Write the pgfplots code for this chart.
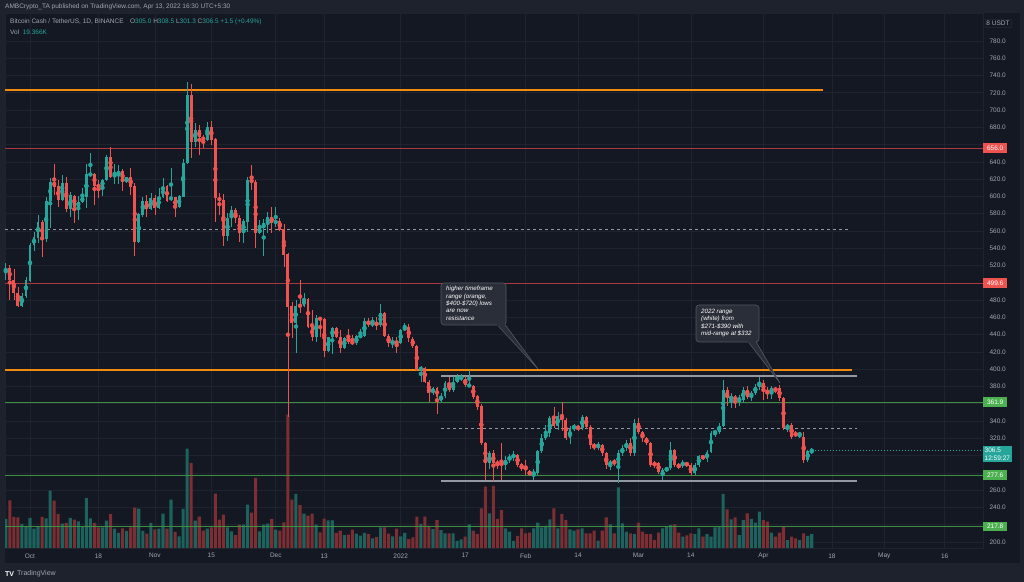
\documentclass[border=0pt]{standalone}
\usepackage{pgfplots}
\pgfplotsset{compat=1.18}
\usepackage{pgfplotstable}
\usepackage{fontspec}
\setmainfont{Liberation Sans}
\definecolor{bgout}{HTML}{1E222D}
\definecolor{bgin}{HTML}{141823}
\definecolor{gridc}{HTML}{1F2330}
\definecolor{txt}{HTML}{A3A6AF}
\definecolor{up}{HTML}{26A69A}
\definecolor{dn}{HTML}{EF5350}
\definecolor{volup}{HTML}{1D625D}
\definecolor{voldn}{HTML}{7D2E33}
\definecolor{orng}{HTML}{F08A10}
\definecolor{redl}{HTML}{A8393E}
\definecolor{redbox}{HTML}{EF5350}
\definecolor{grnl}{HTML}{3F8F43}
\definecolor{grnbox}{HTML}{4CAF50}
\definecolor{rng}{HTML}{9598A1}
\definecolor{callbg}{HTML}{2A2E39}
\definecolor{callbd}{HTML}{545761}
\newcommand\tvf{\fontsize{6.5bp}{7.8bp}\selectfont}
\newcommand\tvs{\fontsize{6.2bp}{7.4bp}\selectfont}

\pgfplotstableread{
d o h l c v
-6 513.0 523.4 503.3 516.8 40.0
-2 473.2 487.9 472.4 484.8 33.1
-1 484.8 507 482 503.3 29.9
0 502 545.7 501 543.8 41.4
1 543.8 559.3 537.3 552.7 26.7
2 551.5 578.5 545.7 570.8 29.9
4 550.4 599.8 547.7 595.1 40.9
5 595.1 621 563.1 617.2 79.1
8 596 625 595 616 33.6
10 585 605.6 576.6 601.7 41.4
12 588 600 572.8 594 36.8
13 594 609.4 592.8 599 29.9
14 599 637.6 586.3 625.6 69.0
15 624.9 650 623 626 40.9
18 611 620 600 619 28.5
19 619 648 618.3 645.3 37.7
21 623.7 637.6 615 624.9 26.7
22 623.7 636.4 614.5 629.9 20.7
24 617 623 616 622 23.5
27 547.7 580.5 545.7 579.3 54.3
28 578.5 599.8 576.6 595.1 23.5
30 585 603.6 584.3 597.8 34.5
32 586.3 609.4 586 599.8 26.7
33 599 621 597.8 611.4 47.4
35 596.7 632.6 595 599 66.7
37 587.4 601.7 586.3 600.6 16.1
38 599.8 643.4 599 639.1 53.8
39 639.1 732.9 637.6 717.5 137.1
41 663.4 684.7 657.7 677 37.7
44 665.4 686.6 664.6 680 26.7
49 554.3 580.5 548.9 575.5 28.5
50 574.7 589 565 584.3 23.0
53 557.3 573.5 546.5 571.6 32.2
54 570.8 622.2 559.3 619 59.8
57 557.3 572.8 556.6 563.1 23.0
58 563.1 573.5 531.5 568.9 32.2
59 568.9 581.6 557.3 575.9 33.6
61 569.7 587.4 565 571.2 25.3
66 453.1 480 419 473.2 74.5
68 473.2 487.9 472.4 481 47.4
71 437.7 462.8 431.9 459 32.2
74 421.5 437.7 420.3 436.9 38.2
75 436.9 449.3 417.6 447.4 38.2
78 424.2 437.7 423 435.8 17.9
81 430 439.6 428 438.5 19.8
82 438 447 436 438.5 17.0
83 438 458.9 437 456.2 20.7
85 451.2 460.8 449 454 13.3
87 451.2 475.5 449 464.7 28.5
90 430 437 424.2 432.7 16.1
92 430 446.2 429.2 445.4 16.1
93 445.4 453 444.7 448.5 20.7
97 399.1 403.7 385.6 401.8 33.1
100 372.1 380 370 377.9 26.2
102 363.6 372 362 369 24.8
103 369 386 367 383.7 20.2
105 376 392 374 384.4 20.2
106 385.6 394 384 390.6 9.7
107 389.5 394 386 391.4 12.0
109 380.6 399.1 379 381.8 32.7
114 291 305 285 302.6 47.8
118 289 300 283 295 27.1
119 295 302 292 298 22.5
120 298 305 294 300.7 9.7
125 277.6 284 271.8 281.4 27.1
126 279.5 307 278 305.7 35.0
127 305.7 325 303 320 28.5
128 320 335 318 326.6 30.4
129 326.6 346 322 343.2 39.6
131 334.3 350 330 345.9 27.1
134 320 334 314 331.6 25.8
135 331.6 337 329 333.5 23.9
137 331.6 347 330 344.3 27.1
141 310.4 316 306 312.3 10.1
144 289.1 295 283 293 32.7
146 289.1 306 268 302.6 83.7
147 302.6 312 300 308.4 34.0
148 308.4 318 305 315 22.5
150 302.6 342 300 337.4 19.3
157 276 286 271.5 283.3 27.1
158 283.3 287 281 285.3 29.4
159 285.3 316 283 306.5 31.7
162 289.1 295 286 291.1 15.6
165 279.5 291 278 289.1 19.3
166 289.1 301 287 299.5 27.1
168 295.7 306 293 304.6 19.3
169 304.6 328 303 326.6 15.6
170 326.6 330 322 327.7 28.5
171 327.7 338 325 334.3 29.4
172 334.3 388 333 376 74.5
174 366.3 372 355 367.5 39.6
176 364.4 370 358 366 17.9
177 364.4 379 362 376 38.6
179 368.2 375 363 372.9 40.0
180 372.9 383 370 379.8 35.0
181 379.8 390.6 376 383.7 50.1
184 372.1 381 365 377.9 21.2
188 331.6 337 327 335.4 11.0
191 323.9 327 320 325.8 11.0
193 294.9 307 293 305 16.6
194 305 308.5 301.3 306.5 19.3
}\uptab

\pgfplotstableread{
d o h l c v
-5 516.8 520.7 480 503.3 65.8
-4 503.3 515.6 480 487.9 42.8
-3 487.9 495.6 472.4 473.2 42.3
3 570.8 572.8 530.3 550.4 42.8
6 617.2 637.6 601.7 611.4 65.3
7 612 619 588 596 46.9
9 616 623 582.4 585.1 34.5
11 601 601.7 568.9 588.2 39.1
16 626 627.6 590 612.1 34.5
17 613 619 598 611.4 28.5
20 645.3 656.9 621 622.2 46.9
23 630 631.4 606.7 617 27.1
25 622 632.6 601.7 611 28.5
26 612 615.2 531.1 547.7 55.7
29 595 601.7 576.6 585 19.8
31 597.8 601.7 578.5 586.3 25.8
34 612 613.3 594 595.1 26.7
36 599 599.8 576.6 587.4 22.1
40 717.5 730.2 644 663.4 117.3
42 677 682.7 648 668.5 43.2
43 668.5 671 655.7 665.4 23.9
45 680 687.8 660 665.4 28.5
46 666 667.3 570.8 597.8 75.0
47 598.6 603.6 578.5 595.1 39.1
48 596 602.9 542.7 554.3 46.0
51 584.3 586.3 568.9 574.7 17.9
52 575.5 578.5 547 557.3 32.2
55 619 636.4 607.5 617 48.8
56 617 619 540 558.1 96.6
60 576 588.2 557.3 569.7 40.0
62 571.2 574.7 560 561.5 23.9
63 562 567.7 518.8 532.3 35.4
64 533.4 535 345 472.4 184.0
65 473.2 478.2 435.8 453.1 66.7
67 474 503.3 465 473 59.3
69 481 482.1 447.4 448.5 44.6
70 448.5 468.6 433.1 437.7 47.4
72 459 460 437.7 457.8 21.6
73 457.8 458.9 414.6 421.5 40.5
76 447.4 449.3 435.8 437.7 20.7
77 437.7 445.4 418.4 424.2 23.9
79 435.8 446.2 429.2 432 18.4
80 432 439.6 428 430 25.3
84 456.2 459 449 451.2 19.3
86 454 460 445.4 451.2 15.2
88 464.7 466.6 437.7 438.5 28.5
89 439 440.4 426.1 430 19.8
91 432 437 419 430 26.7
94 448.5 452 432 435.8 12.4
95 434.6 437 425 426.9 14.7
96 426.9 428 398 399.1 43.2
98 401.8 403 384 385.6 43.2
99 385.6 388 362.5 372.1 30.4
101 377.9 380 348.2 368.2 38.6
104 383.7 391 374 376 20.2
108 388.3 392 380 381.8 15.6
110 380.6 382 366 368.2 23.9
111 369 370 353 356.7 19.3
112 357.4 360 312 314.2 54.7
113 314.2 316 272 291 84.6
115 302.6 306 271 291 85.6
116 291.8 295 285 290.3 40.0
117 291.8 314.2 272 288.7 52.4
121 300.7 302 287 289.1 16.6
122 289.9 292 282 284.5 27.1
123 287.2 295 277.6 283.3 20.2
124 281.4 283 276 278.7 21.2
130 343.2 356 332 334.3 54.7
132 345.9 362.5 329 341.2 46.9
133 341.2 343 318 320 38.6
136 333.5 336 328 331.6 25.8
138 344.3 346 331 333.5 20.2
139 333.5 335 308 312.3 20.2
140 312.3 315 306 310.4 23.9
142 312.3 314 300 302.6 23.9
143 302.6 304 285 289 42.3
145 293 296 288 292 20.2
149 315 320 300 302.6 20.2
151 337.4 343 325 327.7 35.0
152 327.7 329 316 320 22.5
153 320 322 312 314.2 19.3
154 314.2 316 287 289.1 19.3
155 291 294 286 289.1 11.0
156 291.1 293 279 281.4 21.2
160 306.5 308 287 289.1 32.7
161 289.1 292 284 287.2 21.2
163 291.1 293 287 289.1 17.5
164 289.1 291 277 279.5 20.2
167 299.5 301 295 296.9 15.6
173 376 380 358 366.3 53.4
175 367.5 370 355 365.2 42.3
178 376 381 366 368.2 47.8
182 383.7 388 364 376 38.6
183 376 380 366 372.1 36.3
185 377.9 380 372 375.5 15.6
186 377.9 382 363 366.3 21.2
187 366.3 368 330 331.6 29.4
189 335.4 338 319 321.9 15.6
190 325.8 328 321 323.9 13.3
192 321 327 292 294.9 20.2
}\dntab

\pgfplotsset{
  tvaxis/.style={at={(5bp,34bp)}, anchor=south west, scale only axis,
    width=978bp, height=535bp, xmin=-6.2, xmax=236.5, clip=true},
  wick/.style={color=#1, only marks, mark=none, mark options={draw=none,fill=none}, forget plot,
    error bars/.cd, y dir=both, y explicit, error mark=none,
    error bar style={line width=0.7bp, draw=#1, solid}},
  body/.style={color=#1, only marks, mark=none, mark options={draw=none,fill=none}, forget plot,
    error bars/.cd, y dir=both, y explicit, error mark=none,
    error bar style={line width=2.9bp, draw=#1, solid}},
}

\begin{document}
\begin{tikzpicture}[x=1bp,y=1bp]
\useasboundingbox (0,0) rectangle (1024,582);
\fill[bgout] (0,0) rectangle (1024,582);
\fill[bgin] (5,19) rectangle (1020,569);

% grid + ticks
\begin{axis}[tvaxis, ymin=193.05, ymax=812.4,
  axis line style={draw=gridc},
  ytick={200,220,...,780}, yticklabel pos=right,
  yticklabels={200.0,,240.0,260.0,,,320.0,340.0,,380.0,400.0,420.0,440.0,460.0,480.0,,520.0,540.0,560.0,580.0,600.0,620.0,640.0,,680.0,700.0,720.0,740.0,760.0,780.0},
  xtick={0,17,31,45,61,73,92,108,123,136,151,164,182,199,212,227},
  xticklabels={Oct,18,Nov,15,Dec,13,2022,17,Feb,14,Mar,14,Apr,18,May,16},
  major tick length=0pt,
  grid=major, major grid style={draw=gridc, line width=0.6bp},
  yticklabel style={font=\tvf, text=txt, anchor=west, xshift=3bp},
  xticklabel style={font=\tvf, text=txt, anchor=north, yshift=-2bp},
]
\addplot[draw=none, forget plot] coordinates {(0,300)};
\end{axis}

% volume
\begin{axis}[tvaxis, ymin=0, ymax=738, axis lines=none, ticks=none]
\addplot[ybar, bar width=3.1bp, bar shift=0pt, fill=volup, draw=none] table[x=d,y=v]{\uptab};
\addplot[ybar, bar width=3.1bp, bar shift=0pt, fill=voldn, draw=none] table[x=d,y=v]{\dntab};
\end{axis}

% price
\begin{axis}[tvaxis, ymin=193.05, ymax=812.4, axis lines=none, ticks=none]
\addplot[orng, line width=1.6bp] coordinates {(-6.2,723.2) (196.8,723.2)};
\addplot[redl, line width=0.8bp] coordinates {(-6.2,656) (236.5,656)};
\addplot[rng, line width=0.9bp, dash pattern=on 3bp off 3bp] coordinates {(-6.2,561.5) (203.5,561.5)};
\addplot[redl, line width=0.8bp] coordinates {(-6.2,499.6) (236.5,499.6)};
\addplot[orng, line width=1.6bp] coordinates {(-6.2,399) (204,399)};
\addplot[rng, line width=1.8bp] coordinates {(102,392) (205.2,392)};
\addplot[grnl, line width=0.8bp] coordinates {(-6.2,361.9) (236.5,361.9)};
\addplot[rng, line width=0.9bp, dash pattern=on 3bp off 3bp] coordinates {(102,332) (205.2,332)};
\addplot[grnl, line width=0.8bp] coordinates {(-6.2,277.6) (236.5,277.6)};
\addplot[rng, line width=1.8bp] coordinates {(102,271) (205.2,271)};
\addplot[grnl, line width=0.8bp] coordinates {(-6.2,217.8) (236.5,217.8)};
\addplot[up, line width=0.6bp, dash pattern=on 1bp off 2bp] coordinates {(194,306.5) (236.5,306.5)};

\addplot[wick=up] table[x=d, y expr={(\thisrow{h}+\thisrow{l})/2}, y error expr={(\thisrow{h}-\thisrow{l})/2}]{\uptab};
\addplot[wick=dn] table[x=d, y expr={(\thisrow{h}+\thisrow{l})/2}, y error expr={(\thisrow{h}-\thisrow{l})/2}]{\dntab};
\addplot[body=up] table[x=d, y expr={(\thisrow{o}+\thisrow{c})/2}, y error expr={max(abs(\thisrow{c}-\thisrow{o})/2,0.6)}]{\uptab};
\addplot[body=dn] table[x=d, y expr={(\thisrow{o}+\thisrow{c})/2}, y error expr={max(abs(\thisrow{c}-\thisrow{o})/2,0.6)}]{\dntab};
\end{axis}

% price labels on the scale
\begin{scope}[every node/.style={font=\tvf, text=white, anchor=west, inner xsep=2bp, inner ysep=1.5bp, minimum height=9.5bp, minimum width=24bp}]
\node[fill=redbox] at (983,{582-(41+(780-656)*0.8638)}) {656.0};
\node[fill=redbox] at (983,{582-(41+(780-499.6)*0.8638)}) {499.6};
\node[fill=grnbox] at (983,{582-(41+(780-361.9)*0.8638)}) {361.9};
\node[fill=grnbox] at (983,{582-(41+(780-277.6)*0.8638)}) {277.6};
\node[fill=grnbox] at (983,{582-(41+(780-217.8)*0.8638)}) {217.8};
\end{scope}
\node[fill=up, text=white, anchor=north west, inner sep=1.5bp, align=left, font=\tvf] at (983,136) {306.5\\12:59:27};
\node[draw=gridc, text=txt, font=\tvf, inner sep=1.5bp, anchor=center] at (998,559) {8 USDT};

% header
\node[anchor=west, text=txt, font=\tvf, inner sep=0] at (5,575) {AMBCrypto\_TA published on TradingView.com, Apr 13, 2022 16:30 UTC+5:30};
\node[anchor=west, text=txt, font=\tvf, inner sep=0] at (10,560) {Bitcoin Cash / TetherUS, 1D, BINANCE\quad O\textcolor{up}{305.0} H\textcolor{up}{308.5} L\textcolor{up}{301.3} C\textcolor{up}{306.5} \textcolor{up}{+1.5 (+0.49\%)}};
\node[anchor=west, text=txt, font=\tvf, inner sep=0] at (10,550) {Vol\ \ \textcolor{up}{19.366K}};

% footer
\node[anchor=west, text=white, font=\fontsize{7bp}{8bp}\selectfont\bfseries, inner sep=0] at (5,8) {TV};
\node[anchor=west, text=txt, font=\fontsize{7bp}{8bp}\selectfont, inner sep=0] at (17,8) {TradingView};

% callouts
\filldraw[fill=callbg, draw=callbd, line width=0.6bp, rounded corners=3bp] (441,299) rectangle (506,257);
\filldraw[fill=callbg, draw=callbd, line width=0.6bp] (497,257.4) -- (538,213) -- (505,257.4);
\fill[callbg] (497.3,256) rectangle (504.7,258.5);
\node[anchor=north west, text=white, font=\tvs\itshape, align=left, inner sep=0] at (446,296) {higher timeframe\\range (orange,\\\$400-\$720) lows\\are now\\resistance};

\filldraw[fill=callbg, draw=callbd, line width=0.6bp, rounded corners=3bp] (696,277) rectangle (759,240);
\filldraw[fill=callbg, draw=callbd, line width=0.6bp] (748,240.4) -- (780,199) -- (756,240.4);
\fill[callbg] (748.3,239) rectangle (755.7,241.5);
\node[anchor=north west, text=white, font=\tvs\itshape, align=left, inner sep=0] at (701,273) {2022 range\\(white) from\\\$271-\$390 with\\mid-range at \$332};
\end{tikzpicture}
\end{document}
